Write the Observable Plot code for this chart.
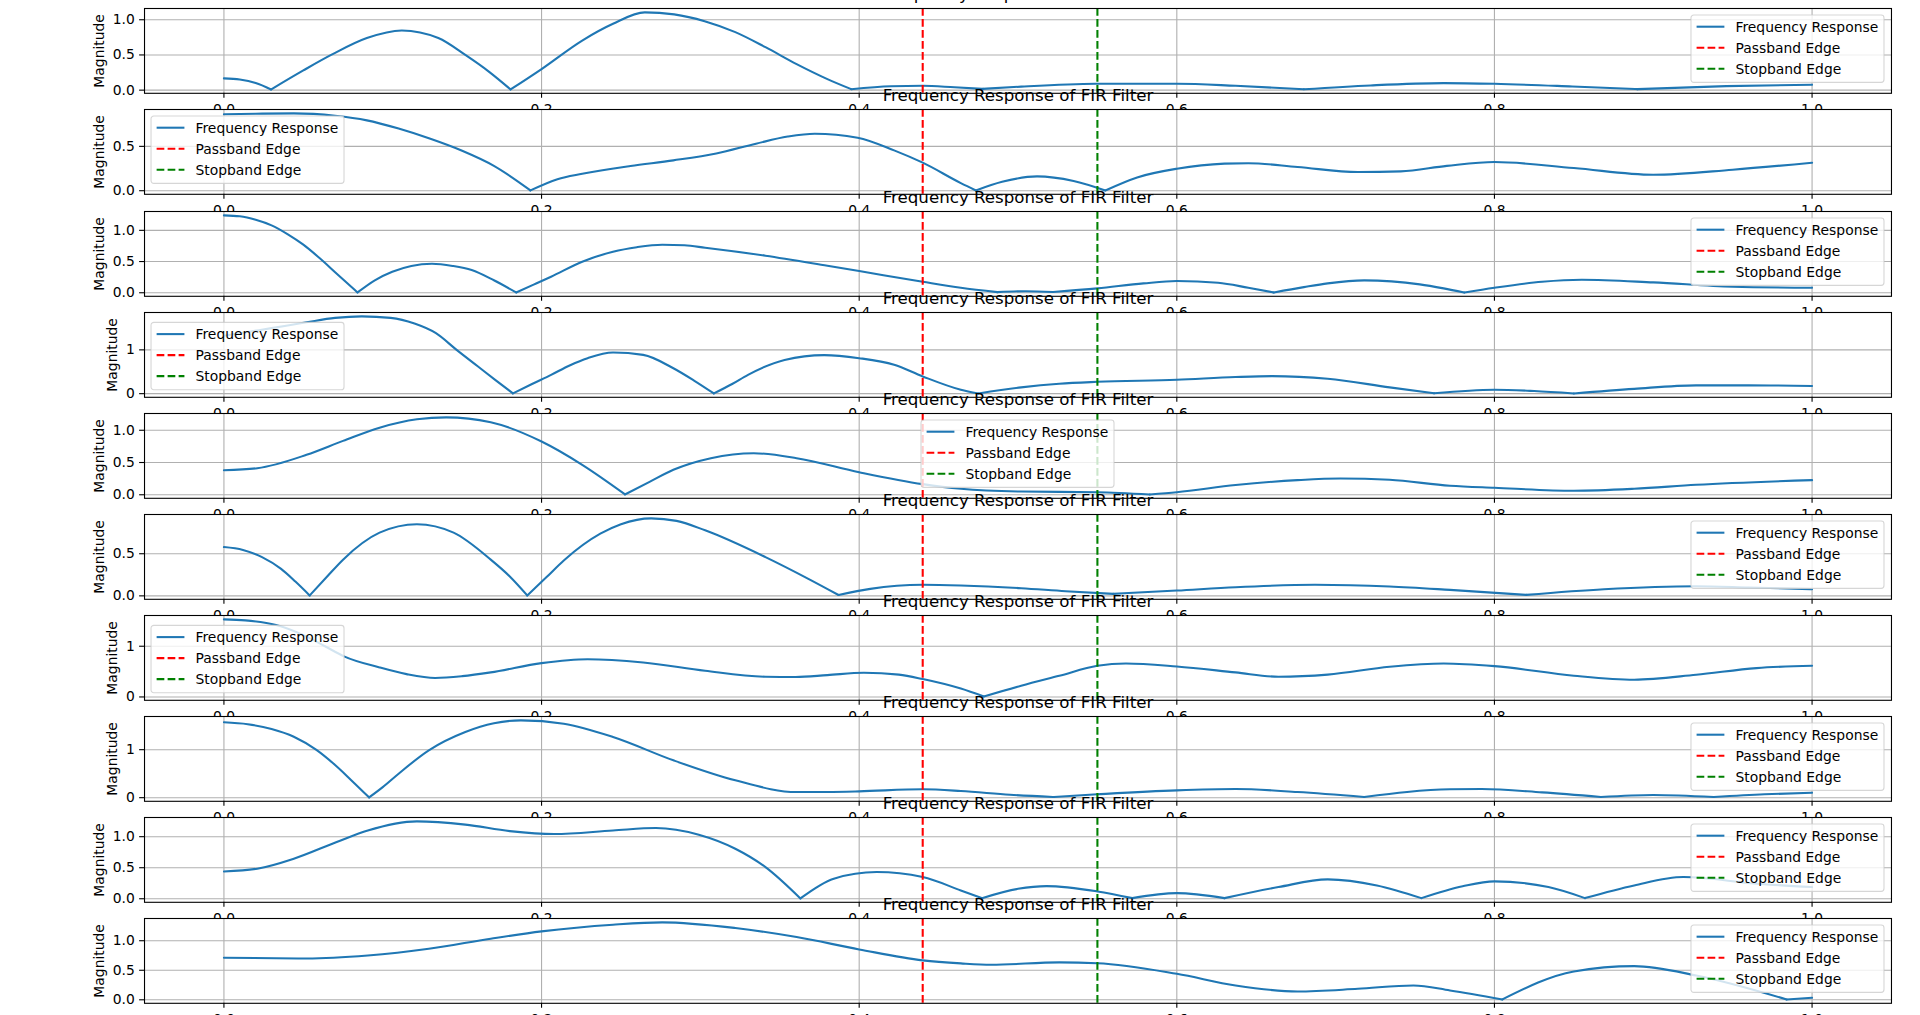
<!DOCTYPE html>
<html><head><meta charset="utf-8">
<script src="https://cdn.jsdelivr.net/npm/d3@7"></script>
<script src="https://cdn.jsdelivr.net/npm/@observablehq/plot@0.6"></script>
<style>
html,body{margin:0;padding:0;background:#fff;overflow:hidden;}
#fig{position:relative;width:1920px;height:1015px;overflow:hidden;background:#fff;font-family:"DejaVu Sans";}
</style></head><body><div id="fig"></div>
<script>
// ---------- data (normalized frequency, magnitude) ----------
const resp1 = [[0,0.167],[0.01,0.15],[0.02,0.1],[0.0297,0.01],[0.05,0.28],[0.0675,0.5],[0.09,0.74],[0.112,0.848],[0.135,0.74],[0.152,0.5],[0.167,0.26],[0.1805,0.01],[0.2,0.3],[0.2256,0.705],[0.245,0.943],[0.265,1.105],[0.2835,1.076],[0.3027,0.98],[0.322,0.824],[0.341,0.61],[0.3606,0.37],[0.38,0.157],[0.395,0.014],[0.42,0.055],[0.44,0.062],[0.46,0.04],[0.478,0.018],[0.502,0.05],[0.549,0.09],[0.6,0.092],[0.637,0.062],[0.68,0.012],[0.722,0.067],[0.768,0.1],[0.8,0.09],[0.849,0.052],[0.89,0.014],[0.946,0.057],[1.0,0.076]];
const resp2 = [[0,0.861],[0.02,0.868],[0.044,0.872],[0.07,0.845],[0.09,0.793],[0.11,0.7],[0.13,0.585],[0.15,0.45],[0.17,0.28],[0.193,0.003],[0.21,0.13],[0.2256,0.19],[0.256,0.278],[0.283,0.342],[0.31,0.42],[0.335,0.53],[0.355,0.61],[0.372,0.643],[0.399,0.598],[0.422,0.455],[0.44,0.316],[0.464,0.086],[0.4735,0.003],[0.49,0.1],[0.512,0.162],[0.535,0.11],[0.555,0.003],[0.575,0.15],[0.6,0.248],[0.63,0.305],[0.645,0.31],[0.676,0.267],[0.714,0.21],[0.741,0.218],[0.77,0.28],[0.8,0.323],[0.85,0.256],[0.9,0.18],[0.95,0.237],[1.0,0.316]];
const resp3 = [[0,1.24],[0.01,1.225],[0.02,1.17],[0.03,1.08],[0.04,0.94],[0.05,0.77],[0.06,0.56],[0.07,0.33],[0.0841,0.005],[0.095,0.2],[0.106,0.337],[0.118,0.43],[0.131,0.465],[0.144,0.43],[0.156,0.364],[0.17,0.2],[0.184,0.005],[0.195,0.13],[0.206,0.257],[0.2256,0.497],[0.245,0.658],[0.26,0.73],[0.276,0.77],[0.29,0.76],[0.303,0.722],[0.341,0.594],[0.38,0.433],[0.4,0.348],[0.44,0.176],[0.464,0.08],[0.487,0.01],[0.505,0.025],[0.522,0.012],[0.55,0.07],[0.579,0.15],[0.6,0.187],[0.626,0.16],[0.645,0.08],[0.661,0.005],[0.68,0.09],[0.695,0.15],[0.718,0.198],[0.753,0.134],[0.768,0.07],[0.781,0.005],[0.8,0.08],[0.83,0.176],[0.855,0.208],[0.9,0.166],[0.95,0.096],[1.0,0.08]];
const resp4 = [[0,1.32],[0.015,1.41],[0.029,1.49],[0.052,1.63],[0.07,1.73],[0.0868,1.765],[0.105,1.73],[0.12,1.6],[0.1335,1.38],[0.1465,1.0],[0.16,0.62],[0.171,0.31],[0.182,0.005],[0.194,0.22],[0.206,0.43],[0.218,0.65],[0.229,0.81],[0.245,0.94],[0.264,0.886],[0.283,0.58],[0.296,0.3],[0.3085,0.005],[0.32,0.22],[0.33,0.43],[0.353,0.77],[0.378,0.88],[0.4,0.81],[0.422,0.66],[0.44,0.394],[0.464,0.09],[0.475,0.005],[0.502,0.144],[0.526,0.227],[0.55,0.27],[0.6,0.318],[0.637,0.38],[0.66,0.4],[0.695,0.34],[0.734,0.144],[0.762,0.008],[0.8,0.09],[0.825,0.06],[0.85,0.005],[0.888,0.11],[0.927,0.19],[0.96,0.19],[1.0,0.174]];
const resp5 = [[0,0.381],[0.021,0.412],[0.052,0.619],[0.075,0.835],[0.098,1.04],[0.1215,1.17],[0.14,1.2],[0.168,1.124],[0.2,0.825],[0.2256,0.464],[0.2526,0.005],[0.268,0.2],[0.283,0.387],[0.3066,0.567],[0.3336,0.644],[0.3606,0.567],[0.4,0.35],[0.44,0.165],[0.464,0.093],[0.502,0.05],[0.55,0.04],[0.583,0.005],[0.6,0.04],[0.637,0.15],[0.676,0.227],[0.703,0.253],[0.734,0.232],[0.772,0.14],[0.8,0.108],[0.85,0.062],[0.888,0.093],[0.927,0.155],[1.0,0.227]];
const resp6 = [[0,0.579],[0.012,0.545],[0.024,0.46],[0.036,0.32],[0.045,0.17],[0.054,0.005],[0.065,0.23],[0.075,0.43],[0.098,0.75],[0.1215,0.85],[0.1446,0.75],[0.168,0.43],[0.18,0.23],[0.191,0.005],[0.203,0.22],[0.214,0.42],[0.237,0.738],[0.25,0.85],[0.269,0.92],[0.285,0.89],[0.303,0.778],[0.341,0.46],[0.368,0.202],[0.387,0.01],[0.407,0.083],[0.44,0.131],[0.464,0.123],[0.502,0.091],[0.53,0.055],[0.56,0.024],[0.6,0.063],[0.637,0.103],[0.687,0.131],[0.734,0.111],[0.772,0.071],[0.82,0.012],[0.869,0.079],[0.927,0.115],[0.96,0.1],[1.0,0.079]];
const resp7 = [[0,1.53],[0.0135,1.51],[0.0328,1.418],[0.05,1.22],[0.0636,1.0],[0.0756,0.8],[0.098,0.582],[0.115,0.45],[0.133,0.375],[0.15,0.41],[0.168,0.484],[0.2,0.667],[0.229,0.745],[0.264,0.68],[0.303,0.516],[0.341,0.399],[0.36,0.392],[0.38,0.43],[0.403,0.477],[0.425,0.44],[0.44,0.353],[0.464,0.165],[0.4785,0.01],[0.502,0.222],[0.526,0.418],[0.55,0.614],[0.568,0.66],[0.6,0.6],[0.637,0.484],[0.664,0.399],[0.695,0.44],[0.734,0.595],[0.768,0.66],[0.8,0.608],[0.85,0.418],[0.888,0.34],[0.927,0.438],[0.965,0.569],[1.0,0.614]];
const resp8 = [[0,1.57],[0.015,1.53],[0.03,1.43],[0.044,1.27],[0.058,1.0],[0.07,0.68],[0.08,0.37],[0.0914,0.005],[0.1,0.22],[0.11,0.5],[0.129,0.986],[0.152,1.368],[0.17,1.55],[0.187,1.611],[0.214,1.54],[0.245,1.264],[0.283,0.778],[0.322,0.361],[0.3606,0.118],[0.38,0.12],[0.4,0.132],[0.44,0.174],[0.464,0.139],[0.495,0.06],[0.522,0.014],[0.55,0.07],[0.6,0.153],[0.637,0.18],[0.676,0.118],[0.718,0.014],[0.745,0.12],[0.772,0.174],[0.792,0.18],[0.83,0.11],[0.867,0.014],[0.9,0.056],[0.938,0.014],[0.97,0.07],[1.0,0.104]];
const resp9 = [[0,0.44],[0.021,0.484],[0.044,0.645],[0.071,0.914],[0.0906,1.1],[0.1215,1.247],[0.152,1.194],[0.18,1.09],[0.208,1.043],[0.245,1.1],[0.272,1.14],[0.299,1.032],[0.322,0.806],[0.341,0.51],[0.363,0.005],[0.384,0.323],[0.411,0.43],[0.44,0.35],[0.464,0.134],[0.4773,0.01],[0.5,0.16],[0.518,0.204],[0.55,0.118],[0.572,0.01],[0.6,0.091],[0.63,0.01],[0.664,0.188],[0.695,0.312],[0.726,0.215],[0.754,0.01],[0.78,0.2],[0.8,0.28],[0.834,0.188],[0.857,0.01],[0.888,0.215],[0.919,0.35],[0.965,0.242],[1.0,0.188]];
const resp10 = [[0,0.712],[0.052,0.7],[0.0906,0.751],[0.129,0.864],[0.168,1.034],[0.2,1.158],[0.245,1.271],[0.276,1.311],[0.322,1.215],[0.3606,1.062],[0.4,0.853],[0.44,0.667],[0.464,0.616],[0.483,0.593],[0.526,0.633],[0.55,0.62],[0.6,0.44],[0.637,0.243],[0.676,0.141],[0.714,0.186],[0.749,0.243],[0.772,0.158],[0.805,0.006],[0.85,0.48],[0.888,0.57],[0.927,0.412],[0.984,0.006],[1.0,0.034]];

const responses = [resp1, resp2, resp3, resp4, resp5, resp6, resp7, resp8, resp9, resp10];
const passbandEdge = 0.44;
const stopbandEdge = 0.55;
const xTicks = [0, 0.2, 0.4, 0.6, 0.8, 1.0];
const yTicks = [[0,0.5,1],[0,0.5],[0,0.5,1],[0,1],[0,0.5,1],[0,0.5],[0,1],[0,1],[0,0.5,1],[0,0.5,1]];
const legendLocs = ["upper right","upper left","upper right","lower left","upper center","upper right","lower left","upper right","upper right","upper right"];
const titleText = "Frequency Response of FIR Filter";
const yLabelText = "Magnitude";
const legendLabels = ["Frequency Response", "Passband Edge", "Stopband Edge"];

// ---------- styling ----------
const BLUE = "#1f77b4", RED = "#ff0000", GREEN = "#008000";
const DASH = "7.7,3.3";
const legendColors = [BLUE, RED, GREEN];
const legendDash = [null, DASH, DASH];

function toRows(pts) {
  const rows = []; let seg = 0;
  pts.forEach(([f, m], k) => {
    rows.push({f, m, seg});
    const prev = pts[k - 1], next = pts[k + 1];
    if (prev && next && m < 0.03 && m <= prev[1] && m <= next[1]) { seg++; rows.push({f, m, seg}); }
  });
  return rows;
}

function legendMark(loc) {
  return (index, scales, values, d) => {
    const fw = 193, fh = 67.4, pad = 7;
    const left = d.marginLeft, right = d.width - d.marginRight;
    const top = d.marginTop, bottom = d.height - d.marginBottom;
    const lx = loc.endsWith("left") ? left + pad : loc.endsWith("right") ? right - pad - fw : (left + right - fw) / 2;
    const ly = loc.startsWith("upper") ? top + pad : bottom - pad - fh;
    const g = d3.create("svg:g").attr("transform", `translate(${lx},${ly})`)
      .attr("text-anchor", "start").attr("font-family", "DejaVu Sans");
    g.append("rect").attr("width", fw).attr("height", fh).attr("rx", 2.8)
      .attr("fill", "white").attr("fill-opacity", 0.8)
      .attr("stroke", "#cccccc").attr("stroke-opacity", 0.8).attr("stroke-width", 1.1);
    legendLabels.forEach((label, k) => {
      const cy = 11.7 + 21 * k;
      const ln = g.append("line").attr("x1", 5.6).attr("x2", 33.4).attr("y1", cy).attr("y2", cy)
        .attr("stroke", legendColors[k]).attr("stroke-width", 2.08);
      if (legendDash[k]) ln.attr("stroke-dasharray", legendDash[k]);
      g.append("text").attr("x", 44.5).attr("y", cy).attr("dy", "0.36em")
        .attr("text-anchor", "start").attr("font-size", 13.9).attr("fill", "black").text(label);
    });
    return g.node();
  };
}

const fig = document.getElementById("fig");
const MT = 30, AH = 84.8, MB = 22;

responses.forEach((pts, i) => {
  const rows = toRows(pts);
  const ms = pts.map(p => p[1]);
  const mn = d3.min(ms), mx = d3.max(ms), pad = 0.05 * (mx - mn);
  const lo = mn - pad, hi = mx + pad;
  const ticks = yTicks[i];
  const isInt = ticks.every(Number.isInteger);
  const fmt = isInt ? (d => String(d)) : (d => d.toFixed(1));
  const svg = Plot.plot({
    width: 1920, height: MT + AH + MB,
    marginTop: MT, marginBottom: MB, marginLeft: 144, marginRight: 29,
    style: {background: "transparent", overflow: "visible", fontFamily: "DejaVu Sans", fontSize: "13.9px", color: "black"},
    x: {domain: [-0.05, 1.05]},
    y: {domain: [lo, hi]},
    marks: [
      Plot.frame({fill: "white", stroke: "none"}),
      Plot.gridX({ticks: xTicks, stroke: "#b0b0b0", strokeOpacity: 1, strokeWidth: 1.1}),
      Plot.gridY({ticks: ticks, stroke: "#b0b0b0", strokeOpacity: 1, strokeWidth: 1.1}),
      Plot.line(rows, {x: "f", y: "m", z: "seg", stroke: BLUE, strokeWidth: 2.08, curve: "monotone-x"}),
      Plot.ruleX([passbandEdge], {y1: lo, y2: hi, stroke: RED, strokeWidth: 2.08, strokeDasharray: DASH}),
      Plot.ruleX([stopbandEdge], {y1: lo, y2: hi, stroke: GREEN, strokeWidth: 2.08, strokeDasharray: DASH}),
      Plot.frame({stroke: "black", strokeWidth: 1.1}),
      Plot.axisX({ticks: xTicks, tickFormat: d => d.toFixed(1), tickSize: 4.9, tickPadding: 6, strokeWidth: 1.1, label: null, color: "black"}),
      Plot.axisY({ticks: ticks, tickFormat: fmt, tickSize: 4.9, tickPadding: 4.9, strokeWidth: 1.1, label: null, color: "black"}),
      Plot.text([yLabelText], {text: d => d, frameAnchor: "left", dx: isInt ? -32 : -45, rotate: -90, textAnchor: "middle", lineAnchor: "middle", fontSize: 13.9, fill: "black"}),
      Plot.text([titleText], {text: d => d, frameAnchor: "top", dy: -8.3, lineAnchor: "bottom", fontSize: 16.67, fill: "black"}),
      legendMark(legendLocs[i])
    ]
  });
  svg.style.position = "absolute";
  svg.style.left = "0px";
  svg.style.top = (8.3 + 101.1 * i - MT) + "px";
  svg.style.maxWidth = "none";
  fig.appendChild(svg);
});
</script></body></html>
